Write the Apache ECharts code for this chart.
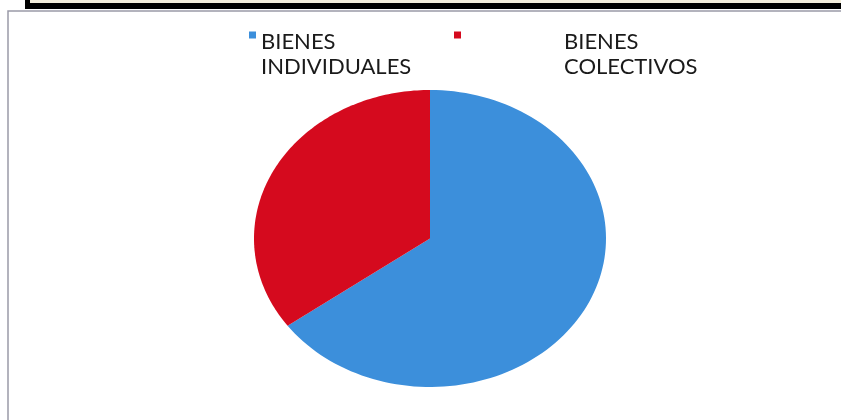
<!DOCTYPE html>
<html>
<head>
<meta charset="utf-8">
<script src="https://cdn.jsdelivr.net/npm/echarts@6/dist/echarts.min.js"></script>
<style>
  html, body { margin: 0; padding: 0; background: #fff; }
  #chart { width: 841px; height: 420px; }
</style>
</head>
<body>
<div id="chart"></div>
<script>
const categories = ['BIENES\nINDIVIDUALES', 'BIENES\nCOLECTIVOS'];
const values = [65, 35];
const colors = ['#3C8FDB', '#D50A1E'];

const total = values.reduce((a, b) => a + b, 0);
const starts = values.map((v, i) => values.slice(0, i).reduce((a, b) => a + b, 0));

// slice drawn on a stretched cartesian box so the pie comes out oval
const sliceRenderer = (idx) => (params, api) => {
    const a0 = starts[idx] / total * Math.PI * 2;
    const a1 = (starts[idx] + values[idx]) / total * Math.PI * 2;
    const pts = [api.coord([0, 0])];
    const steps = 120;
    for (let k = 0; k <= steps; k++) {
        const a = a0 + (a1 - a0) * k / steps;
        pts.push(api.coord([Math.sin(a), Math.cos(a)]));
    }
    return {
        type: 'polygon',
        shape: { points: pts },
        style: { fill: colors[idx] }
    };
};

const chart = echarts.init(document.getElementById('chart'));

// marker sits a bit above the first text line, like the excel legend
const legendBase = (padLeft) => ({
    top: 5, padding: 0,
    icon: 'rect', itemWidth: 7, itemHeight: 7,
    formatter: (name) => '{e| }\n' + name.split('\n').map(s => '{t|' + s + '}').join('\n'),
    textStyle: {
        color: '#1a1a1a',
        padding: [0, 0, 0, padLeft],
        rich: {
            e: { fontSize: 10, lineHeight: 39 },
            t: { fontFamily: 'Lato', fontSize: 22, lineHeight: 25, color: '#1a1a1a' }
        }
    }
});

chart.setOption({
    animation: false,
    legend: [
        Object.assign({ data: [categories[0]], left: 249 }, legendBase(0)),
        Object.assign({ data: [categories[1]], left: 454 }, legendBase(98))
    ],
    grid: { left: 254, top: 90, width: 352, height: 297 },
    xAxis: { type: 'value', min: -1, max: 1, show: false },
    yAxis: { type: 'value', min: -1, max: 1, show: false },
    graphic: [
        { type: 'rect', shape: { x: 25, y: 0, width: 816, height: 9 }, style: { fill: '#000' } },
        { type: 'rect', shape: { x: 30, y: 0, width: 811, height: 3 }, style: { fill: '#f3eedc' } },
        { type: 'polyline', shape: { points: [[8, 420], [8, 11], [841, 11]] },
          style: { stroke: '#9a9aa8', lineWidth: 1.5, fill: null } }
    ],
    series: categories.map((name, i) => ({
        name: name,
        type: 'custom',
        color: colors[i],
        data: [[0, 0]],
        renderItem: sliceRenderer(i)
    }))
});
</script>
</body>
</html>
